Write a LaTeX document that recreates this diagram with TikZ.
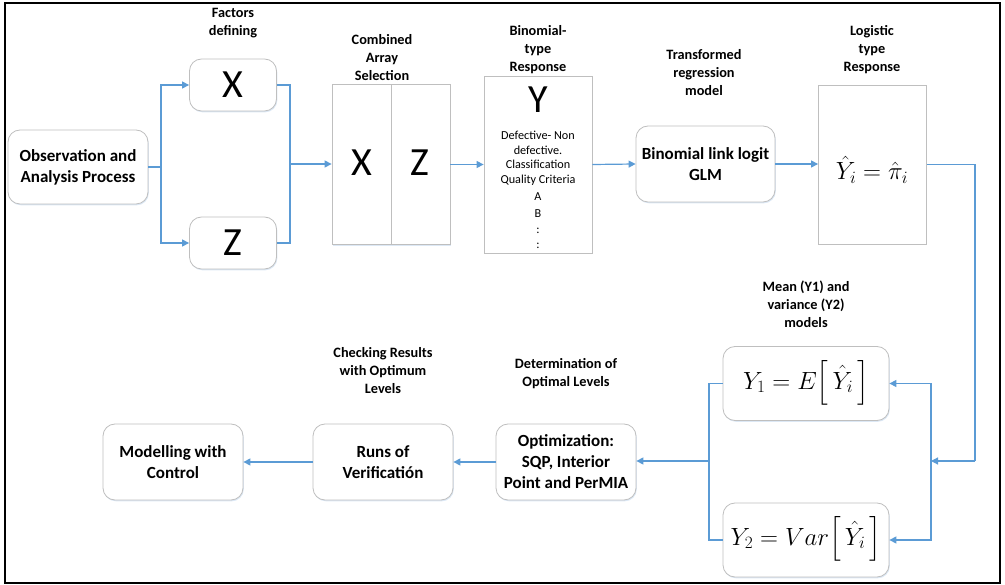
\documentclass[tikz,border=0pt]{standalone}
\usepackage{amsmath}
\usepackage{fontspec}
\setmainfont{Carlito}
\usetikzlibrary{arrows.meta,shadows}
\definecolor{lblue}{HTML}{5B9BD5}
\definecolor{bgray}{HTML}{BFBFBF}
\definecolor{shblue}{HTML}{DCE8F5}
\begin{document}
\begin{tikzpicture}[x=1pt,y=-1pt,
  shad/.style={general shadow={shadow xshift=0.8pt, shadow yshift=-1.3pt, fill=shblue}},
  rbox/.style={draw=bgray, line width=0.8pt, rounded corners=12pt, fill=white, align=center,
    font=\bfseries\fontsize{17}{21}\selectfont, inner sep=0pt, shad},
  sbox/.style={draw=bgray, line width=0.8pt, fill=white, inner sep=0pt, shad},
  lbl/.style={align=center, font=\bfseries\fontsize{14.3}{18}\selectfont, inner sep=0pt},
  conn/.style={draw=lblue, line width=1.2pt},
  arr/.style={conn, -{Triangle[length=7pt,width=7pt]}},
  big/.style={font=\fontsize{40}{40}\selectfont, inner sep=0pt},
  frm/.style={font=\fontsize{25}{30}\selectfont, inner sep=0pt}
]
\useasboundingbox (0,0) rectangle (1005,585);
\draw[line width=2pt] (5,3) rectangle (1000,583);

% labels
\node[lbl] (l1) at (233,23) {Factors\\defining};
\node[lbl] (l2) at (382,58) {Combined\\Array\\Selection};
\node[lbl] (l3) at (538,49.5) {Binomial-\\type\\Response};
\node[lbl] (l4) at (704,73) {Transformed\\regression\\model};
\node[lbl] (l5) at (872,49.5) {Logistic\\type\\Response};
\node[lbl] (l6) at (806,304) {Mean (Y1) and\\variance (Y2)\\models};
\node[lbl] (l7) at (566,373.5) {Determination of\\Optimal Levels};
\node[lbl] (l8) at (383,371) {Checking Results\\with Optimum\\Levels};

% top row
\node[rbox, minimum width=140pt, minimum height=74pt] (obs) at (78,167) {Observation and\\Analysis Process};
\node[rbox, minimum width=87pt, minimum height=52pt] (xb) at (233,85) {};
\node[big] (xl) at (233,85) {X};
\node[rbox, minimum width=87pt, minimum height=52pt] (zb) at (233,243) {};
\node[big] (zl) at (233,243) {Z};

\node[sbox, minimum width=118pt, minimum height=160pt] (comb) at (391,164.5) {};
\draw[bgray, line width=0.8pt] (comb.north) -- (comb.south);
\node[big] (cx) at (362,163) {X};
\node[big] (cz) at (420,163) {Z};

\node[sbox, minimum width=108pt, minimum height=177pt] (yb) at (538,164.5) {};
\node[big] (yl) at (538,100) {Y};
\node[align=center, inner sep=0pt, font=\fontsize{12.2}{14.7}\selectfont] (ytxt) at (538,190)
  {Defective- Non\\defective.\\Classification\\Quality Criteria\\[2pt]A\\[2.5pt]B\\[1pt]:\\[1pt]:};

\node[rbox, minimum width=139pt, minimum height=76pt] (glm) at (705.5,164) {Binomial link logit\\GLM};

\node[sbox, minimum width=108pt, minimum height=159pt] (yi) at (872.5,164.5) {};
\node[frm] (yif) at (872,170) {$\hat{Y}_i = \hat{\pi}_i$};

% bottom row
\node[rbox, minimum width=166pt, minimum height=74pt] (y1) at (806,383.5) {};
\node[frm] (y1f) at (806,383) {$Y_1 = E\Bigl[\,\hat{Y}_i\,\Bigr]$};
\node[rbox, minimum width=166pt, minimum height=74pt] (y2) at (806,540) {};
\node[frm] (y2f) at (806,539) {$Y_2 = Var\Bigl[\,\hat{Y}_i\,\Bigr]$};

\node[rbox, minimum width=140pt, minimum height=76pt] (opt) at (566,462) {Optimization:\\SQP, Interior\\Point and PerMIA};
\node[rbox, minimum width=140pt, minimum height=76pt] (runs) at (383,462) {Runs of\\Verificatión};
\node[rbox, minimum width=140pt, minimum height=76pt] (mod) at (173,462) {Modelling with\\Control};

% connectors
\coordinate (j1) at (161,167);
\draw[conn] (obs.east) -- (j1);
\draw[arr] (j1) |- (xb.west);
\draw[arr] (j1) |- (zb.west);
\coordinate (j2) at (290,164);
\draw[conn] (xb.east) -| (j2) |- (zb.east);
\draw[arr] (j2) -- (j2 -| comb.west);
\draw[arr] (comb.east) -- (yb.west);
\draw[arr] (yb.east) -- (glm.west);
\draw[arr] (glm.east) -- (glm.east -| yi.west);

\coordinate (j3) at (975,461);
\coordinate (j4) at (931,461);
\draw[conn] (yi.east) -| (j3);
\draw[arr] (j3) -- (j4);
\draw[arr] (j4) |- (y1.east);
\draw[arr] (j4) |- (y2.east);

\coordinate (j5) at (709,461);
\draw[conn] (y1.west) -| (j5);
\draw[conn] (y2.west) -| (j5);
\draw[arr] (j5) -- (j5 -| opt.east);
\draw[arr] (opt.west) -- (runs.east);
\draw[arr] (runs.west) -- (mod.east);
\end{tikzpicture}
\end{document}
